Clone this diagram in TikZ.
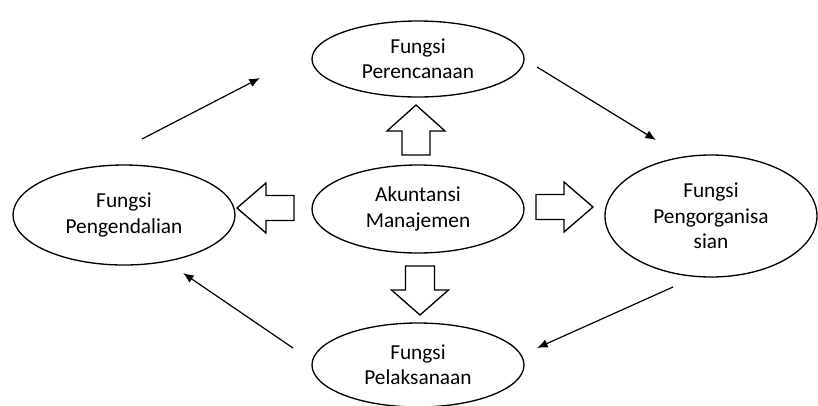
\documentclass[tikz,border=0pt]{standalone}
\usepackage{fontspec}
\setmainfont{Carlito}
\usetikzlibrary{arrows.meta, positioning, shapes.geometric}

\begin{document}
\begin{tikzpicture}[
  x=0.75pt, y=-0.75pt,
  fungsi/.style={ellipse, draw, line width=1pt, inner sep=0pt, align=center, font=\fontsize{16}{19}\selectfont},
  arrow/.style={-{Latex[length=8pt,width=6.5pt]}, line width=0.9pt},
  pics/barrow/.style n args={4}{code={
    \draw[line width=1pt] (0,-#4/2) -- (#1-#2,-#4/2) -- (#1-#2,-#3/2) -- (#1,0)
      -- (#1-#2,#3/2) -- (#1-#2,#4/2) -- (0,#4/2) -- cycle;}}
]
  \useasboundingbox (0,0) rectangle (818,405);

  \node[fungsi, minimum width=159pt, minimum height=57pt] (plan) at (418,59) {Fungsi\\Perencanaan};
  \node[fungsi, minimum width=159pt, minimum height=66pt] (akun) at (418,209) {Akuntansi\\Manajemen};
  \node[fungsi, minimum width=166.5pt, minimum height=75pt] (kend) at (124,215) {Fungsi\\Pengendalian};
  \node[fungsi, minimum width=159pt, minimum height=91.5pt] (org) at (711,216) {Fungsi\\Pengorganisa\\sian};
  \node[fungsi, minimum width=159pt, minimum height=63pt] (laks) at (418,365) {Fungsi\\Pelaksanaan};

  % block arrows out of the centre
  \pic[rotate=90] at (416,155) {barrow={50}{26}{58}{28}};
  \pic[rotate=-90] at (420,266) {barrow={49}{25}{57}{29}};
  \pic[rotate=180] at (294,208) {barrow={57}{29}{50}{25}};
  \pic at (536,207) {barrow={57}{29}{50}{25}};

  % cycle
  \coordinate (k1) at (142,139);
  \coordinate (p1) at (260,78);
  \coordinate (p2) at (537,67);
  \coordinate (o1) at (656,140);
  \coordinate (o2) at (673,287);
  \coordinate (l1) at (537,348);
  \coordinate (l2) at (293,348);
  \coordinate (k2) at (183,273);
  \draw[arrow] (k1) -- (p1);
  \draw[arrow] (p2) -- (o1);
  \draw[arrow] (o2) -- (l1);
  \draw[arrow] (l2) -- (k2);
\end{tikzpicture}
\end{document}
